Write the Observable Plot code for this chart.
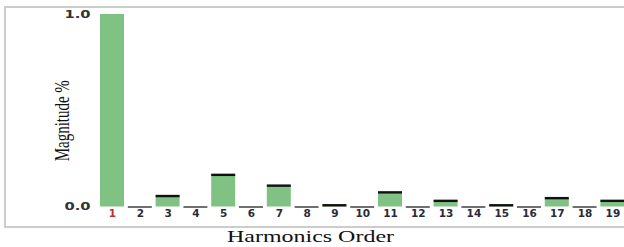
<!DOCTYPE html>
<html>
<head>
<meta charset="utf-8">
<script src="https://cdn.jsdelivr.net/npm/d3@7"></script>
<script src="https://cdn.jsdelivr.net/npm/@observablehq/plot@0.6"></script>
<style>
  html, body { margin: 0; padding: 0; background: white; }
  #wrap { position: relative; width: 624px; height: 247px; overflow: hidden; }
  #box { position: absolute; left: 4px; top: 6px; width: 700px; height: 218px; border: 2px solid #cccccc; pointer-events: none; }
</style>
</head>
<body>
<div id="wrap"></div>
<script>
// Harmonic orders (categories)
const harmonics = [1, 2, 3, 4, 5, 6, 7, 8, 9, 10, 11, 12, 13, 14, 15, 16, 17, 18, 19];
// Magnitude per harmonic
const magnitudes = [1.0, 0, 0.057, 0, 0.167, 0, 0.111, 0, 0.009, 0, 0.076, 0, 0.032, 0, 0.009, 0, 0.046, 0, 0.032];
// Y tick values
const yTicks = [0, 1];
const xTitle = "Harmonics Order";
const yTitle = "Magnitude %";

const data = harmonics.map((h, i) => ({h, v: magnitudes[i]}));

const chart = Plot.plot({
  width: 624,
  height: 247,
  marginTop: 14,
  marginBottom: 40.5,
  marginLeft: 96,
  marginRight: 0,
  x: {type: "band", domain: harmonics, range: [96.2, 628.2], padding: 0.137, round: false},
  y: {domain: [0, 1]},
  style: {fontFamily: "DejaVu Sans", fontSize: "10px"},
  marks: [
    Plot.barY(data, {x: "h", y: "v", fill: "#80c283"}),
    Plot.tickY(data.filter(d => d.h !== 1), {x: "h", y: "v", stroke: "#111", strokeWidth: d => d.v > 0 ? 2.4 : 1.2}),
    Plot.axisY({ticks: yTicks, tickSize: 0, tickPadding: 6, tickFormat: d3.format(".1f"), label: null, fill: "#333", fontWeight: "bold"}),
    Plot.axisX({ticks: harmonics.filter(h => h !== 1), tickSize: 0, tickPadding: 3, label: null, fill: "#2a2a3a", fontWeight: "bold", fontSize: 10.5}),
    Plot.axisX({ticks: [1], tickSize: 0, tickPadding: 3, label: null, fill: "#c0302a", fontWeight: "bold", fontSize: 10.5}),
    Plot.text([xTitle], {frameAnchor: "bottom", textAnchor: "middle", dx: -50, dy: 35, fontFamily: "Liberation Serif", fontSize: 16, fill: "#111"}),
    Plot.text([yTitle], {frameAnchor: "left", textAnchor: "middle", rotate: -90, dx: -34, dy: 10, fontFamily: "Liberation Serif", fontSize: "15px", fill: "#111"})
  ]
});

const wrap = document.getElementById("wrap");
wrap.appendChild(chart);
const box = document.createElement("div");
box.id = "box";
wrap.appendChild(box);

// stretch texts horizontally like the reference
d3.select(chart).selectAll("text").each(function() {
  const t = this.textContent;
  if (t === xTitle) { this.setAttribute("textLength", 167); this.setAttribute("lengthAdjust", "spacingAndGlyphs"); }
  else if (t === "0.0" || t === "1.0") { this.setAttribute("textLength", 26); this.setAttribute("lengthAdjust", "spacingAndGlyphs"); }
  else if (t === yTitle) {
    const tr = this.getAttribute("transform") || "";
    this.setAttribute("transform", tr.replace("rotate", "scale(1.4,1) rotate"));
  }
});
</script>
</body>
</html>
